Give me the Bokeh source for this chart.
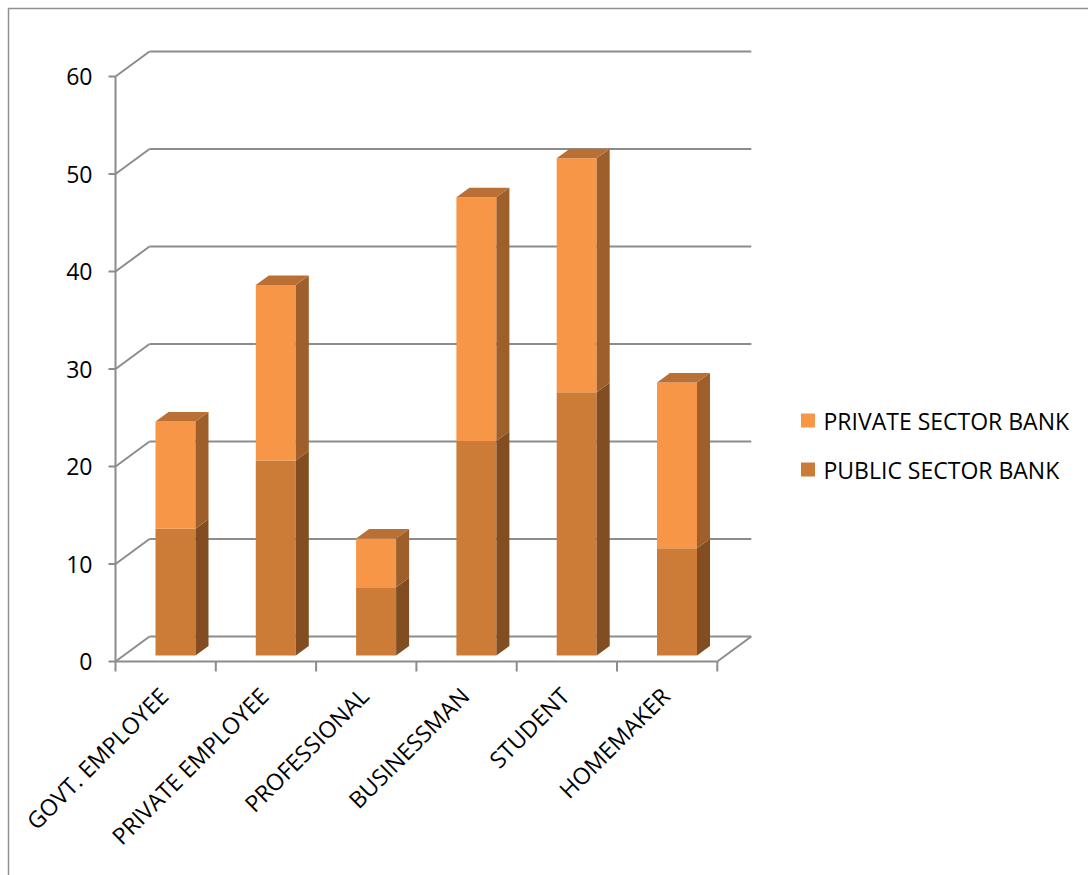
from bokeh.plotting import figure
from bokeh.models import Range1d, ColumnDataSource
from bokeh.core.properties import value
from bokeh.embed import file_html
from bokeh.resources import INLINE

# ---- data -------------------------------------------------------------
categories = ["GOVT. EMPLOYEE", "PRIVATE EMPLOYEE", "PROFESSIONAL",
              "BUSINESSMAN", "STUDENT", "HOMEMAKER"]
public_sector = [13, 20, 7, 22, 27, 11]
private_sector = [11, 18, 5, 25, 24, 17]
series_names = ["PRIVATE SECTOR BANK", "PUBLIC SECTOR BANK"]
y_ticks = [0, 10, 20, 30, 40, 50, 60]

# ---- canvas geometry (pixel <-> data mapping) ---------------------------
W, H = 1088, 875
X0, SX = 115.0, 100.3      # px of category 0 edge, px per category
Y0, SY = 661.0, 9.75       # px of value 0, px per value unit


def dx(px):
    return (px - X0) / SX


def dy(py):
    return (Y0 - py) / SY


# oblique depth of the walls and of the bars
WALL_DX, WALL_DY = 34 / SX, 25 / SY
BAR_LEFT, BAR_W = 40 / SX, 40 / SX
BAR_BASE = 6 / SY
BAR_DX, BAR_DY = 13 / SX, 9.5 / SY

FONT = value("Open Sans")
GRID = "#8c8c8c"

PRIV_FRONT, PRIV_SIDE, PRIV_TOP = "#F79646", "#9E5F2B", "#BA7034"
PUB_FRONT, PUB_SIDE = "#CC7C37", "#824E21"

p = figure(width=W, height=H, output_backend="svg", toolbar_location=None,
           x_range=Range1d(dx(0), dx(W)), y_range=Range1d(dy(H), dy(0)),
           x_axis_type=None, y_axis_type=None, min_border=0,
           outline_line_color=None, background_fill_color="white",
           border_fill_color="white")

n = len(categories)
ymax = y_ticks[-1]

# chart-area border
p.line([dx(8), dx(8), dx(W)], [dy(H), dy(8), dy(8)], line_color="#8f8f8f", line_width=1.5)

# back wall gridlines with their diagonal links to the value axis
p.segment(x0=[WALL_DX] * len(y_ticks), y0=[t + WALL_DY for t in y_ticks],
          x1=[n + WALL_DX] * len(y_ticks), y1=[t + WALL_DY for t in y_ticks],
          line_color=GRID, line_width=2)
p.segment(x0=[0] * len(y_ticks), y0=y_ticks,
          x1=[WALL_DX] * len(y_ticks), y1=[t + WALL_DY for t in y_ticks],
          line_color=GRID, line_width=2)

# value axis line and its tick marks
p.segment(x0=[0], y0=[0], x1=[0], y1=[ymax], line_color=GRID, line_width=2)
p.segment(x0=[-7 / SX] * len(y_ticks), y0=y_ticks, x1=[0] * len(y_ticks), y1=y_ticks,
          line_color=GRID, line_width=2)

# floor front edge, right edge and category tick marks
p.line([0, n, n + WALL_DX], [0, 0, WALL_DY], line_color=GRID, line_width=2)
p.segment(x0=list(range(n + 1)), y0=[0] * (n + 1), x1=list(range(n + 1)),
          y1=[-10 / SY] * (n + 1), line_color=GRID, line_width=2)


# ---- 3D stacked columns --------------------------------------------------
def column_faces(lows, highs):
    lefts = [i + BAR_LEFT for i in range(n)]
    rights = [l + BAR_W for l in lefts]
    bottoms = [BAR_BASE + v for v in lows]
    tops = [BAR_BASE + v for v in highs]
    side_xs = [[r, r + BAR_DX, r + BAR_DX, r] for r in rights]
    side_ys = [[b, b + BAR_DY, t + BAR_DY, t] for b, t in zip(bottoms, tops)]
    top_xs = [[l, l + BAR_DX, r + BAR_DX, r] for l, r in zip(lefts, rights)]
    top_ys = [[t, t + BAR_DY, t + BAR_DY, t] for t in tops]
    return lefts, rights, bottoms, tops, side_xs, side_ys, top_xs, top_ys


totals = [a + b for a, b in zip(public_sector, private_sector)]

l, r, b, t, sx, sy, tx, ty = column_faces([0] * n, public_sector)
p.quad(left=l, right=r, bottom=b, top=t, fill_color=PUB_FRONT, line_color=None)
p.patches(sx, sy, fill_color=PUB_SIDE, line_color=None)

l, r, b, t, sx, sy, tx, ty = column_faces(public_sector, totals)
p.quad(left=l, right=r, bottom=b, top=t, fill_color=PRIV_FRONT, line_color=None)
p.patches(sx, sy, fill_color=PRIV_SIDE, line_color=None)
p.patches(tx, ty, fill_color=PRIV_TOP, line_color=None)

# ---- axis labels --------------------------------------------------------
p.text(x=[-23 / SX] * len(y_ticks), y=y_ticks,
       text=[str(v) for v in y_ticks], text_font=FONT, text_font_size="23px",
       text_color="black", text_align="right", text_baseline="middle")

cat_src = ColumnDataSource(dict(x=[i + 0.5 - 2 / SX for i in range(n)],
                                y=[-30 / SY] * n, text=categories))
p.text(x="x", y="y", text="text", source=cat_src, angle=0.785398,
       text_font=FONT, text_font_size="23px", text_color="black",
       text_align="right", text_baseline="middle")

# ---- legend -------------------------------------------------------------
legend_colors = [PRIV_FRONT, PUB_FRONT]
legend_rows = [420, 469]
p.rect(x=[dx(807.5)] * 2, y=[dy(py) for py in legend_rows], width=14, height=14,
       width_units="screen", height_units="screen",
       fill_color=legend_colors, line_color=None)
p.text(x=[dx(823)] * 2, y=[dy(py) for py in legend_rows], text=series_names,
       text_font=FONT, text_font_size="23px", text_color="black",
       text_align="left", text_baseline="middle")

open("out.html", "w").write(file_html(p, INLINE))
